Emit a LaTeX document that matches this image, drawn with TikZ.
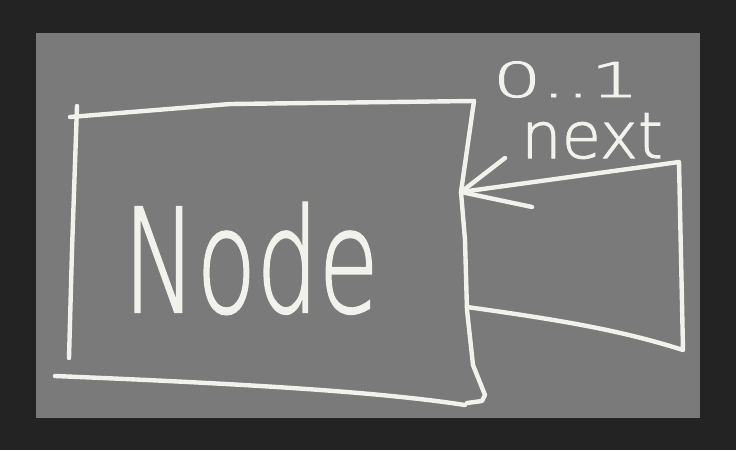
\documentclass[tikz,border=0pt]{standalone}
\usepackage{fontspec}
\newfontfamily\chalkfont[FakeBold=1.6,AutoFakeBold=1.6]{DejaVu Sans ExtraLight}
\definecolor{frame}{HTML}{232323}
\definecolor{board}{HTML}{7A7A7A}
\definecolor{chalk}{HTML}{F2F2EC}
\tikzset{
  chalkline/.style={draw=chalk, line width=4.4pt, line cap=round, line join=round},
  chalktext/.style={text=chalk, inner sep=0pt, font=\chalkfont},
}
\begin{document}
\begin{tikzpicture}[x=1pt,y=-1pt]
\fill[frame] (0,0) rectangle (736,450);
\useasboundingbox (0,0) rectangle (736,450);
\fill[board] (36,33) rectangle (700,418);
% class box (hand drawn)
\coordinate (tl) at (70,117);
\coordinate (tr) at (474,101);
\coordinate (tip) at (461,192);
\draw[chalkline] (tl) -- (230,104) -- (tr);
\draw[chalkline] (77,106) -- (72,250) -- (69,358);
\draw[chalkline] (55,376) .. controls (250,384) and (380,392) .. (465,405);
\draw[chalkline] (tr) -- (tip) -- (465,240) -- (467,310) -- (473,365) -- (485,395) -- (482,401) -- (467,403);
% class name
\node[chalktext, font=\chalkfont\bfseries\fontsize{144}{144}\selectfont, xscale=0.68, anchor=base] (cls) at (251,312) {Node};
% self association
\coordinate (c1) at (679,162);
\coordinate (c2) at (683,350);
\coordinate (c3) at (467,307);
\draw[chalkline] (c3) .. controls (560,320) and (620,330) .. (c2) -- (c1) -- (tip);
\coordinate (b1) at (505,158);
\coordinate (b2) at (532,207);
\draw[chalkline] (b1) -- (tip) -- (b2);
% labels
\node[chalktext, font=\chalkfont\bfseries\fontsize{48}{48}\selectfont, xscale=1.6, anchor=base] (mult) at (566,97) {0..1};
\node[chalktext, font=\chalkfont\bfseries\fontsize{64}{64}\selectfont, anchor=base] (role) at (592,158) {next};
\end{tikzpicture}
\end{document}
